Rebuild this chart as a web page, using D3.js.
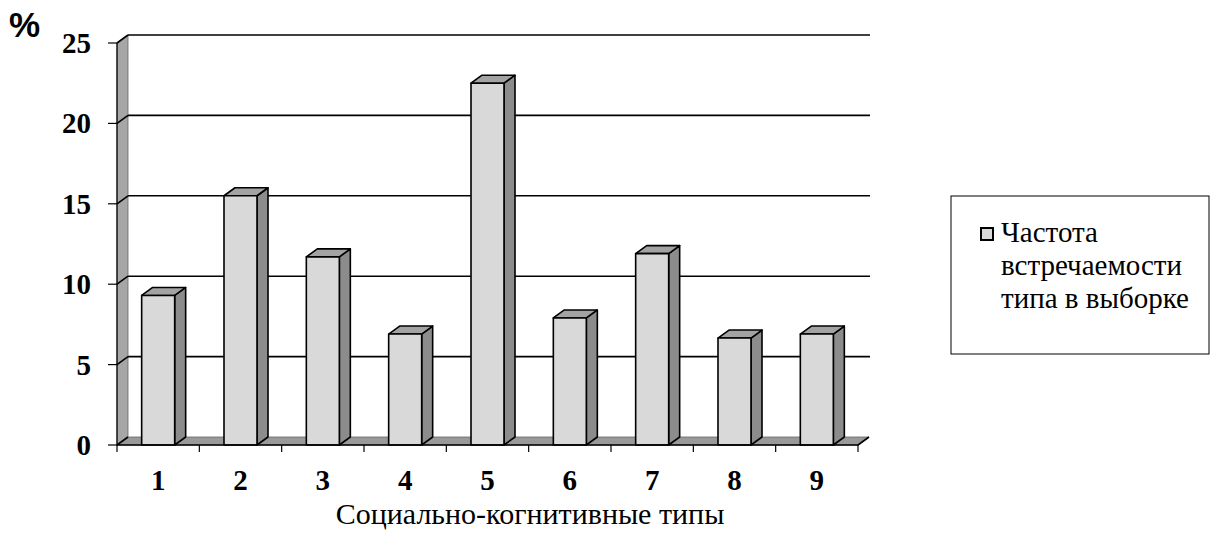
<!DOCTYPE html>
<html>
<head>
<meta charset="utf-8">
<script src="https://cdn.jsdelivr.net/npm/d3@7.9.0/dist/d3.min.js"></script>
<style>
  body { margin: 0; background: #fff; }
  svg { display: block; }
</style>
</head>
<body>
<svg id="chart" width="1213" height="533"></svg>
<script>
const types = ['1', '2', '3', '4', '5', '6', '7', '8', '9'];
const freq = [9.3, 15.5, 11.7, 6.9, 22.5, 7.9, 11.9, 6.65, 6.9];
const yTicks = [0, 5, 10, 15, 20, 25];
const seriesName = ['Частота', 'встречаемости', 'типа в выборке'];

const svg = d3.select('#chart');

const x0 = 117, x1 = 858;
const yBottom = 445, yTop = 43;
// 3d depth offset
const dx = 11, dy = -8;

const x = d3.scaleBand().domain(types).range([x0, x1]);
const y = d3.scaleLinear().domain([0, 25]).range([yBottom, yTop]);

const serif = "'Liberation Serif', 'DejaVu Serif', serif";

// left wall
svg.append('path')
  .attr('d', `M${x0},${y(0)} L${x0 + dx},${y(0) + dy} L${x0 + dx},${y(25) + dy} L${x0},${y(25)} Z`)
  .attr('fill', '#a6a6a6')
  .attr('stroke', '#666')
  .attr('stroke-width', 0.8);

// floor
svg.append('path')
  .attr('d', `M${x0},${y(0)} L${x1},${y(0)} L${x1 + dx},${y(0) + dy} L${x0 + dx},${y(0) + dy} Z`)
  .attr('fill', '#999')
  .attr('stroke', '#666')
  .attr('stroke-width', 0.8);

// gridlines on back wall + diagonal on side wall
const grid = svg.append('g')
  .attr('stroke', '#000')
  .attr('stroke-width', 1.6)
  .attr('fill', 'none');

yTicks.filter(t => t > 0).forEach(t => {
  grid.append('line')
    .attr('x1', x0 + dx).attr('x2', x1 + dx + 1)
    .attr('y1', y(t) + dy).attr('y2', y(t) + dy);
  grid.append('line')
    .attr('x1', x0).attr('x2', x0 + dx)
    .attr('y1', y(t)).attr('y2', y(t) + dy);
});
// floor diagonal edges
grid.append('line')
  .attr('x1', x0).attr('x2', x0 + dx)
  .attr('y1', y(0)).attr('y2', y(0) + dy);
grid.append('line')
  .attr('x1', x1).attr('x2', x1 + dx)
  .attr('y1', y(0)).attr('y2', y(0) + dy);

// bars
const bw = 33;
const bars = svg.append('g')
  .attr('stroke', '#000')
  .attr('stroke-width', 1.6)
  .attr('stroke-linejoin', 'round');

types.forEach((t, i) => {
  const bx = x(t) + (x.bandwidth() - bw) / 2;
  const by = y(freq[i]);
  const yb = y(0);
  // side
  bars.append('path')
    .attr('d', `M${bx + bw},${yb} L${bx + bw + dx},${yb + dy} L${bx + bw + dx},${by + dy} L${bx + bw},${by} Z`)
    .attr('fill', '#8c8c8c');
  // top
  bars.append('path')
    .attr('d', `M${bx},${by} L${bx + dx},${by + dy} L${bx + bw + dx},${by + dy} L${bx + bw},${by} Z`)
    .attr('fill', '#a3a3a3');
  // front
  bars.append('rect')
    .attr('x', bx).attr('y', by)
    .attr('width', bw).attr('height', yb - by)
    .attr('fill', '#d9d9d9');
});

// y axis
const yAxis = svg.append('g');
yAxis.append('line')
  .attr('x1', x0).attr('x2', x0)
  .attr('y1', y(0)).attr('y2', y(25))
  .attr('stroke', '#000').attr('stroke-width', 1.2);
yTicks.forEach(t => {
  yAxis.append('line')
    .attr('x1', x0 - 9).attr('x2', x0)
    .attr('y1', y(t)).attr('y2', y(t))
    .attr('stroke', '#000').attr('stroke-width', 1.2);
  yAxis.append('text')
    .attr('x', 91).attr('y', y(t) + 10)
    .attr('text-anchor', 'end')
    .attr('font-family', serif)
    .attr('font-weight', 'bold')
    .attr('font-size', 29)
    .text(t);
});

// x axis
const xAxis = svg.append('g');
xAxis.append('line')
  .attr('x1', x0).attr('x2', x1)
  .attr('y1', y(0)).attr('y2', y(0))
  .attr('stroke', '#000').attr('stroke-width', 1.6);
[x0, ...types.map(t => x(t) + x.bandwidth())].forEach(tx => {
  xAxis.append('line')
    .attr('x1', tx).attr('x2', tx)
    .attr('y1', y(0)).attr('y2', y(0) + 7)
    .attr('stroke', '#000').attr('stroke-width', 1.2);
});
types.forEach(t => {
  xAxis.append('text')
    .attr('x', x(t) + x.bandwidth() / 2)
    .attr('y', 490)
    .attr('text-anchor', 'middle')
    .attr('font-family', serif)
    .attr('font-weight', 'bold')
    .attr('font-size', 29)
    .text(t);
});

svg.append('text')
  .attr('x', 530).attr('y', 524)
  .attr('text-anchor', 'middle')
  .attr('font-family', serif)
  .attr('font-size', 30)
  .text('Социально-когнитивные типы');

svg.append('text')
  .attr('x', 9).attr('y', 37)
  .attr('font-family', "'Liberation Sans', Arial, sans-serif")
  .attr('font-weight', 'bold')
  .attr('font-size', 35)
  .text('%');

// legend
const lg = svg.append('g');
lg.append('rect')
  .attr('x', 951).attr('y', 196)
  .attr('width', 258).attr('height', 158)
  .attr('fill', '#fff')
  .attr('stroke', '#000').attr('stroke-width', 1);
lg.append('rect')
  .attr('x', 981).attr('y', 228)
  .attr('width', 12).attr('height', 12)
  .attr('fill', '#d9d9d9')
  .attr('stroke', '#000').attr('stroke-width', 2);
seriesName.forEach((s, i) => {
  lg.append('text')
    .attr('x', 1001).attr('y', 242 + i * 33)
    .attr('font-family', serif)
    .attr('font-size', 29)
    .text(s);
});
</script>
</body>
</html>
